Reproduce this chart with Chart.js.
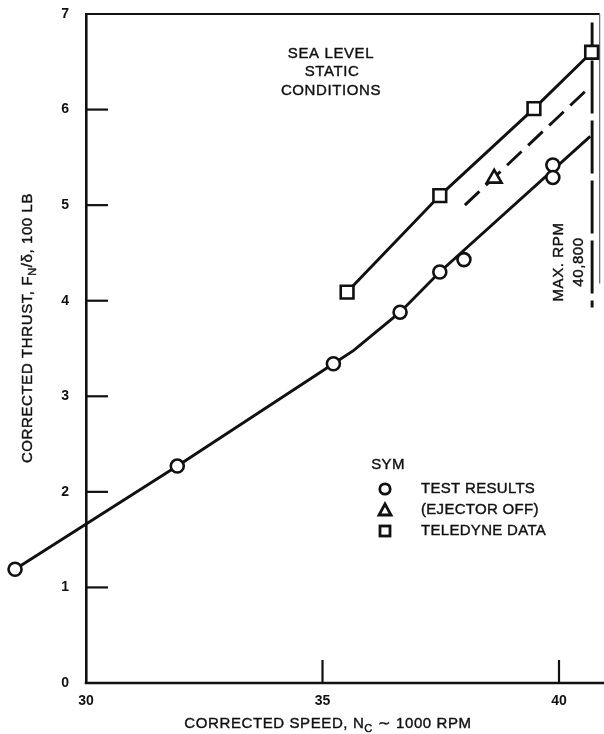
<!DOCTYPE html>
<html>
<head>
<meta charset="utf-8">
<script src="https://cdn.jsdelivr.net/npm/chart.js@4.4.0/dist/chart.umd.min.js"></script>
<style>
  html, body { margin: 0; padding: 0; background: #fff; }
  canvas { display: block; }
</style>
</head>
<body>
<canvas id="thrustChart" width="604" height="734"></canvas>
<script>
// corrected speed (1000 rpm) vs corrected thrust (100 lb)
const testSpeed = [28.5, 31.93, 35.23, 36.64, 37.48, 37.99, 39.87, 39.87];
const testThrust = [1.19, 2.27, 3.34, 3.88, 4.30, 4.43, 5.42, 5.29];

// faired curve through the test points
const fairSpeed = [28.5, 31.93, 35.23, 35.66, 36.64, 37.48, 40.66];
const fairThrust = [1.19, 2.27, 3.34, 3.48, 3.88, 4.30, 5.72];

const ejectorSpeed = [38.63];
const ejectorThrust = [5.28];
const ejectorLineSpeed = [38.01, 40.66];
const ejectorLineThrust = [5.00, 6.24];

const teledyneSpeed = [35.52, 37.48, 39.47, 40.69];
const teledyneThrust = [4.09, 5.10, 6.01, 6.60];

const maxRpmSpeed = [40.70, 40.70];
const maxRpmThrust = [6.91, 3.93];

const xTicks = [30, 35, 40];
const yTicks = [0, 1, 2, 3, 4, 5, 6, 7];

const INK = '#111';
const FONT = "'Liberation Sans', Arial, sans-serif";

// where 30 and 40 sit on the sheet, used to set the x range
const X30_PX = 86;
const X40_PX = 559;

const pts = (xs, ys) => xs.map((x, i) => ({ x: x, y: ys[i] }));

function line(ctx, x1, y1, x2, y2) {
    ctx.beginPath();
    ctx.moveTo(x1, y1);
    ctx.lineTo(x2, y2);
    ctx.stroke();
}

// text with subscript runs, centred on (x, y); a thin stroke gives the print weight
function drawRuns(ctx, runs, x, y) {
    const widths = runs.map(r => {
        ctx.font = r.sub ? '11px ' + FONT : '15px ' + FONT;
        return ctx.measureText(r.t).width;
    });
    let cx = x - widths.reduce((a, b) => a + b, 0) / 2;
    runs.forEach((r, i) => {
        ctx.font = r.sub ? '11px ' + FONT : '15px ' + FONT;
        ctx.fillText(r.t, cx, y + (r.sub ? 5 : 0));
        ctx.strokeText(r.t, cx, y + (r.sub ? 5 : 0));
        cx += widths[i];
    });
}

const paperMarks = {
    id: 'paperMarks',
    beforeDatasetsDraw(chart) {
        const { ctx, scales: { x, y } } = chart;
        const x0 = x.getPixelForValue(30);
        const yb = y.getPixelForValue(0);
        const yt = y.getPixelForValue(7);
        const xr = x.getPixelForValue(40.86);
        ctx.save();
        ctx.strokeStyle = INK;
        ctx.lineWidth = 2.6;
        line(ctx, x0 - 1.3, yb, chart.width, yb);
        ctx.lineWidth = 2;
        line(ctx, x0, yt, xr, yt);
        ctx.lineWidth = 1.2;
        ctx.strokeStyle = '#666';
        line(ctx, xr, yt, xr, y.getPixelForValue(4.18));

        // tick marks point into the plot
        ctx.strokeStyle = INK;
        ctx.lineWidth = 2.2;
        yTicks.slice(1, -1).forEach(v => {
            const py = y.getPixelForValue(v);
            line(ctx, x0, py, x0 + 22, py);
        });
        xTicks.slice(1).forEach(v => {
            const px = x.getPixelForValue(v);
            line(ctx, px, yb, px, yb - 23);
        });

        ctx.fillStyle = INK;
        ctx.font = 'bold 14px ' + FONT;
        ctx.textAlign = 'right';
        ctx.textBaseline = 'middle';
        yTicks.forEach(v => ctx.fillText(String(v), x0 - 17, y.getPixelForValue(v)));
        ctx.restore();
    },
    afterDraw(chart) {
        const { ctx } = chart;
        ctx.save();
        ctx.fillStyle = INK;
        ctx.strokeStyle = INK;
        ctx.lineWidth = 0.4;
        ctx.textBaseline = 'middle';
        ctx.textAlign = 'left';
        ctx.letterSpacing = '0.6px';

        // axis titles
        drawRuns(ctx, [{ t: 'CORRECTED SPEED, N' }, { t: 'C', sub: true }, { t: ' \u223C 1000 RPM' }], 328, 724);
        ctx.save();
        ctx.translate(28, 328);
        ctx.rotate(-Math.PI / 2);
        drawRuns(ctx, [{ t: 'CORRECTED THRUST, F' }, { t: 'N', sub: true }, { t: '/\u03B4, 100 LB' }], 0, 0);
        ctx.restore();

        // notes
        drawRuns(ctx, [{ t: 'SEA LEVEL' }], 331, 54);
        drawRuns(ctx, [{ t: 'STATIC' }], 332, 72);
        drawRuns(ctx, [{ t: 'CONDITIONS' }], 331, 91);

        ctx.save();
        ctx.translate(559, 262);
        ctx.rotate(-Math.PI / 2);
        drawRuns(ctx, [{ t: 'MAX. RPM' }], 0, 0);
        ctx.restore();
        ctx.save();
        ctx.translate(579, 262);
        ctx.rotate(-Math.PI / 2);
        drawRuns(ctx, [{ t: '40,800' }], 0, 0);
        ctx.restore();

        // symbol key
        ctx.letterSpacing = '0.3px';
        drawRuns(ctx, [{ t: 'SYM' }], 388, 465);
        ctx.font = '15px ' + FONT;
        [['TEST RESULTS', 489], ['(EJECTOR OFF)', 510], ['TELEDYNE DATA', 531]].forEach(([t, ty]) => {
            ctx.fillText(t, 421, ty);
            ctx.strokeText(t, 421, ty);
        });

        ctx.lineWidth = 2.8;
        ctx.beginPath();
        ctx.arc(385, 489, 5.2, 0, Math.PI * 2);
        ctx.stroke();
        ctx.beginPath();
        ctx.moveTo(385, 504);
        ctx.lineTo(391, 515);
        ctx.lineTo(379, 515);
        ctx.closePath();
        ctx.stroke();
        ctx.strokeRect(380, 526, 10, 10);
        ctx.restore();
    }
};

const markerBase = {
    showLine: false,
    pointBackgroundColor: '#fff',
    pointBorderColor: INK,
    pointBorderWidth: 2.6,
    clip: false
};
const lineBase = {
    showLine: true,
    borderColor: INK,
    borderWidth: 2.9,
    pointRadius: 0,
    tension: 0,
    clip: false
};

const chart = new Chart(document.getElementById('thrustChart').getContext('2d'), {
    type: 'scatter',
    data: {
        datasets: [
            Object.assign({}, markerBase, {
                label: 'TEST RESULTS',
                data: pts(testSpeed, testThrust),
                pointStyle: 'circle',
                pointRadius: 6.5
            }),
            Object.assign({}, markerBase, {
                label: '(EJECTOR OFF)',
                data: pts(ejectorSpeed, ejectorThrust),
                pointStyle: 'triangle',
                pointRadius: 8.5
            }),
            Object.assign({}, markerBase, {
                label: 'TELEDYNE DATA',
                data: pts(teledyneSpeed, teledyneThrust),
                pointStyle: 'rect',
                pointRadius: 9,
                showLine: true,
                borderColor: INK,
                borderWidth: 2.9
            }),
            Object.assign({}, lineBase, {
                label: 'test fairing',
                data: pts(fairSpeed, fairThrust)
            }),
            Object.assign({}, lineBase, {
                label: 'ejector off fairing',
                data: pts(ejectorLineSpeed, ejectorLineThrust),
                borderDash: [20, 9]
            }),
            Object.assign({}, lineBase, {
                label: 'max rpm',
                data: pts(maxRpmSpeed, maxRpmThrust),
                borderDash: [53, 7],
                borderDashOffset: 22
            })
        ]
    },
    options: {
        responsive: false,
        animation: false,
        events: [],
        layout: { padding: { top: 14, right: 4, left: 0, bottom: 0 } },
        plugins: {
            legend: { display: false },
            tooltip: { enabled: false }
        },
        scales: {
            x: {
                type: 'linear',
                min: 28.18,
                max: 40.867,
                afterBuildTicks: s => { s.ticks = xTicks.map(v => ({ value: v })); },
                afterFit: s => { s.height = 51; },
                grid: { display: false, drawTicks: false },
                border: { display: false },
                ticks: {
                    color: INK,
                    padding: 10,
                    font: { family: FONT, size: 14, weight: 'bold' }
                }
            },
            y: {
                type: 'linear',
                min: 0,
                max: 7,
                position: { x: 30 },
                grid: { display: false, drawTicks: false },
                border: { display: true, color: INK, width: 2.6 },
                ticks: { display: false, stepSize: 1 }
            }
        }
    },
    plugins: [paperMarks]
});

// fit the x range so that 30 and 40 land where they are on the sheet
for (let i = 0; i < 4; i++) {
    const { left, right } = chart.chartArea;
    const perUnit = (X40_PX - X30_PX) / 10;
    chart.options.scales.x.min = 30 - (X30_PX - left) / perUnit;
    chart.options.scales.x.max = 40 + (right - X40_PX) / perUnit;
    chart.update();
}
</script>
</body>
</html>
